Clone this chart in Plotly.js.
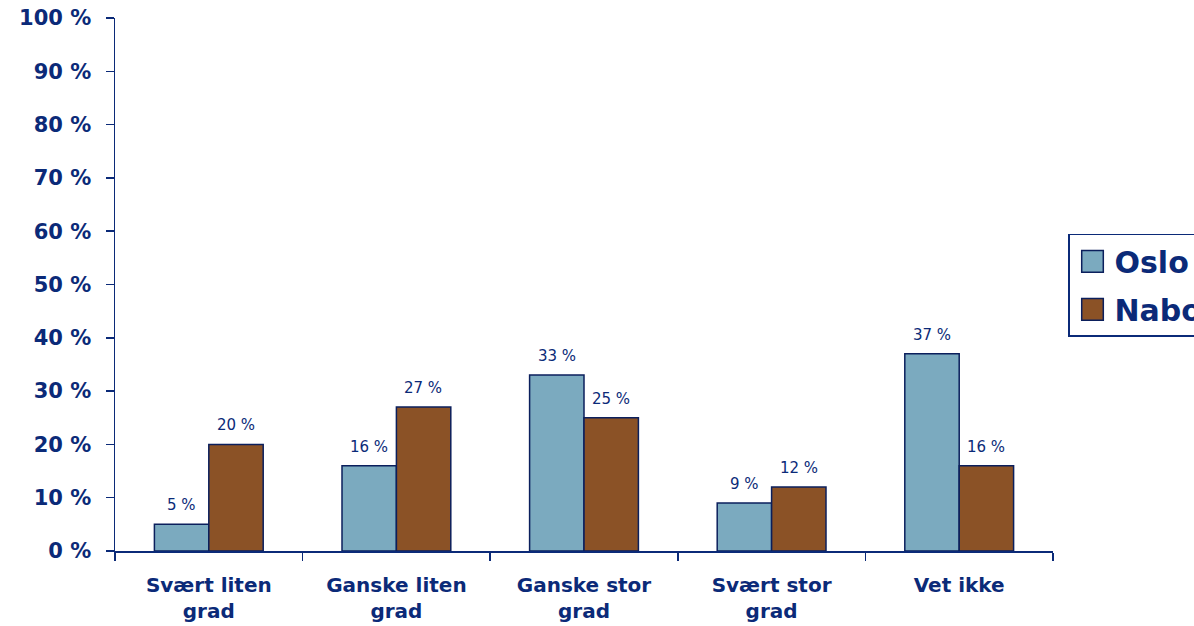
<!DOCTYPE html>
<html>
<head>
<meta charset="utf-8">
<script src="https://cdn.plot.ly/plotly-3.0.1.min.js"></script>
<style>
html,body{margin:0;padding:0;background:#fff;}
#chart{width:1194px;height:626px;}
.legendpoints path{transform-box:fill-box;transform-origin:center;transform:translate(23px,0) scale(1.8);vector-effect:non-scaling-stroke;}
</style>
</head>
<body>
<div id="chart"></div>
<script>
const categories = ["Svært liten<br>grad", "Ganske liten<br>grad", "Ganske stor<br>grad", "Svært stor<br>grad", "Vet ikke"];
const osloValues = [5, 16, 33, 9, 37];
const naboValues = [20, 27, 25, 12, 16];
const yTickVals = [0, 10, 20, 30, 40, 50, 60, 70, 80, 90, 100];
const yTickText = ["0 %", "10 %", "20 %", "30 %", "40 %", "50 %", "60 %", "70 %", "80 %", "90 %", "100 %"];
const seriesNames = ["Oslo", "Nabokommuner"];

const navy = "#0B2A78";
const labelFont = {family: "DejaVu Sans", size: 15, color: navy};
const data = [
  {
    type: "bar", name: seriesNames[0], x: categories, y: osloValues, legendgroup: "g1",
    marker: {color: "#7BAABF", line: {color: "#0B1F5C", width: 1.5}},
    hoverinfo: "none"
  },
  {
    type: "bar", name: seriesNames[1], x: categories, y: naboValues, legendgroup: "g2",
    marker: {color: "#8B5226", line: {color: "#0B1F5C", width: 1.5}},
    hoverinfo: "none"
  }
];
const barHalf = 27;
const annotations = [];
[osloValues, naboValues].forEach((vals, si) => {
  vals.forEach((v, i) => {
    annotations.push({
      x: categories[i], y: v, xref: "x", yref: "y",
      text: v + " %", showarrow: false, font: labelFont,
      xanchor: "center", yanchor: "bottom",
      xshift: si === 0 ? -barHalf : barHalf, yshift: 8
    });
  });
});
const layout = {
  width: 1194, height: 626,
  margin: {l: 115, r: 141, t: 18, b: 75, autoexpand: false},
  paper_bgcolor: "#fff", plot_bgcolor: "#fff",
  barmode: "group", bargap: 0.42, bargroupgap: 0,
  showlegend: true,
  annotations: annotations,
  legend: {
    x: 1.016, y: 0.595, xanchor: "left", yanchor: "top",
    bgcolor: "#fff", bordercolor: navy, borderwidth: 1.5,
    font: {family: "DejaVu Sans", size: 30, color: navy, weight: "bold"},
    traceorder: "grouped", tracegroupgap: 6, itemwidth: 35,
    itemclick: false
  },
  xaxis: {
    type: "category", showline: true, linecolor: navy, linewidth: 1.5,
    ticks: "outside", tickson: "boundaries", ticklen: 8, tickcolor: navy, tickwidth: 1.5,
    ticklabelstandoff: 15,
    tickfont: {family: "DejaVu Sans", size: 20, color: navy, weight: "bold"},
    showgrid: false, zeroline: false, fixedrange: true
  },
  yaxis: {
    range: [0, 100], tickvals: yTickVals, ticktext: yTickText,
    showline: true, linecolor: navy, linewidth: 1.5,
    ticks: "outside", ticklen: 8, tickcolor: navy, tickwidth: 1.5,
    ticklabelstandoff: 10,
    tickfont: {family: "DejaVu Sans", size: 21, color: navy, weight: "bold"},
    showgrid: false, zeroline: false, fixedrange: true
  }
};
Plotly.newPlot("chart", data, layout, {displayModeBar: false, staticPlot: true});
</script>
</body>
</html>
